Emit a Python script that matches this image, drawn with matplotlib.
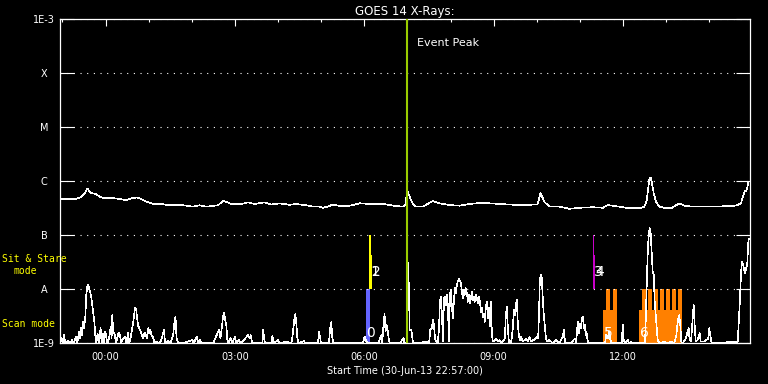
import numpy as np
import matplotlib
matplotlib.use('Agg')
import matplotlib.pyplot as plt
import matplotlib.dates as mdates
from matplotlib.ticker import NullLocator
from datetime import datetime

# time axis: minutes after 30-Jun-13 22:57:00, flux as log10(W/m^2)
start = datetime(2013, 6, 30, 22, 57)
span_min = 960

# GOES long channel (1-8 A)
long_min = [0, 20, 27.4, 34.3, 37.6, 40.3, 43.6, 48.2, 55.2, 62, 76, 83, 92, 99, 106, 113,
            120, 129, 143, 152, 171, 185, 194, 203, 219.5, 226.5, 231, 238, 252, 261, 270.5,
            284.3, 293.6, 305, 319, 328, 342, 351.5, 361, 365.4, 372.3, 379, 388.5, 402,
            416.5, 430.4, 449, 462.8, 476.7, 480.4, 482.7, 486, 490.6, 495, 504.5, 513.7,
            518.4, 527.6, 541.5, 555.4, 569.3, 587.8, 597, 611, 639, 664, 668, 674, 681,
            694.6, 708.5, 722.4, 740.9, 754.8, 761.7, 768.7, 778, 791.8, 805.7, 812.7,
            815.9, 818.2, 819.6, 821.5, 823.3, 825.6, 828.9, 833.5, 842.8, 849.7, 856.7,
            862.2, 868.2, 879.8, 912.2, 940, 947, 950.2, 952, 954.8, 957.6]
long_log = [-6.33, -6.33, -6.30, -6.22, -6.13, -6.18, -6.22, -6.23, -6.285, -6.315, -6.315,
            -6.33, -6.35, -6.315, -6.30, -6.33, -6.38, -6.42, -6.425, -6.444, -6.444, -6.47,
            -6.444, -6.47, -6.444, -6.36, -6.38, -6.42, -6.42, -6.39, -6.42, -6.39, -6.43,
            -6.41, -6.435, -6.42, -6.444, -6.47, -6.47, -6.49, -6.47, -6.43, -6.455, -6.455,
            -6.407, -6.42, -6.42, -6.45, -6.47, -6.42, -6.16, -6.285, -6.42, -6.47, -6.47,
            -6.40, -6.365, -6.407, -6.44, -6.452, -6.42, -6.396, -6.407, -6.42, -6.44, -6.43,
            -6.22, -6.39, -6.47, -6.47, -6.51, -6.49, -6.48, -6.49, -6.44, -6.452, -6.47,
            -6.50, -6.50, -6.47, -6.35, -6.11, -5.96, -5.93, -6.04, -6.22, -6.38, -6.47,
            -6.50, -6.50, -6.44, -6.41, -6.45, -6.47, -6.47, -6.45, -6.41, -6.26, -6.19,
            -6.17, -6.01]

# GOES short channel (0.5-4 A)
short_pts = [
    (0, -9.0), (1.9, -8.9), (3.3, -9.0), (5.2, -8.85), (7, -9.0), (11.2, -8.95), (13.5, -9.0),
    (16.3, -8.94), (19, -9.0), (21.4, -8.88), (23.7, -9.0), (26, -8.78), (27.4, -8.9),
    (28.8, -8.72), (30.2, -8.85), (31.5, -8.6), (33, -8.72), (34.8, -8.5), (36.2, -8.1),
    (37.6, -7.95), (39, -7.91), (40.3, -8.0), (41.7, -8.05), (43.1, -8.15), (44.5, -8.3),
    (45.9, -8.45), (47.3, -8.6), (48.7, -8.85), (50, -9.0), (51.9, -8.82), (53.3, -9.0),
    (54.7, -8.85), (56.1, -8.72), (57.5, -9.0), (59.3, -8.82), (60.7, -9.0), (62.6, -8.78),
    (64, -8.9), (65.8, -9.0), (68.1, -8.88), (70, -8.7), (71.4, -8.9), (72.3, -8.48),
    (73.7, -8.8), (75.5, -8.82), (77.4, -9.0), (79.2, -8.9), (81.1, -8.8), (83, -8.84),
    (84.8, -9.0), (86.6, -8.92), (90.3, -8.88), (92.2, -9.0), (94, -8.8), (95.9, -9.0),
    (97.8, -8.9), (100, -8.72), (101.5, -8.6), (102.9, -8.45), (104.2, -8.34), (105.6, -8.37),
    (107, -8.55), (108.4, -8.68), (109.8, -8.72), (111.6, -8.78), (113.5, -8.85), (115.4, -8.9),
    (117.2, -8.8), (119, -8.85), (120.9, -8.9), (122.3, -8.72), (123.7, -8.82), (125.1, -8.75),
    (126.9, -8.85), (128.8, -8.88), (131.1, -9.0), (133.9, -8.97), (138.5, -9.0), (141.3, -8.9),
    (144.1, -8.75), (145.9, -9.0), (150.1, -8.95), (153.3, -9.0), (157, -8.85), (158.9, -8.6),
    (160.3, -8.51), (161.7, -8.9), (164, -9.0), (175.5, -8.98), (183.9, -8.94), (185.7, -9.0),
    (189.9, -8.88), (191.7, -9.0), (194, -8.94), (197.8, -9.0), (212.6, -9.0), (220.9, -8.75),
    (222.8, -8.9), (224.6, -8.72), (226.5, -8.5), (227.9, -8.44), (229.2, -8.55), (231.1, -8.68),
    (232.5, -8.95), (234.8, -9.0), (236.7, -8.9), (239.4, -9.0),
    (242.8, -8.88), (245.1, -9.0), (248.4, -8.94), (251.1, -9.0), (261.3, -8.85), (263.2, -8.9),
    (265, -8.85), (266.9, -9.0), (281.2, -9.0), (282.2, -8.75), (283.5, -8.9), (284.9, -9.0),
    (293.7, -9.0), (295.1, -8.86), (296.5, -9.0), (303, -8.94), (304.8, -9.0), (314.6, -8.97),
    (321.5, -9.0), (322.9, -8.88), (324.3, -8.72), (325.7, -8.54), (327.1, -8.46), (328.5, -8.66),
    (329.8, -8.9), (331.2, -9.0), (339.1, -8.96), (341, -9.0), (358.6, -9.0), (359.9, -8.78),
    (361.3, -8.88), (362.7, -9.0), (373.8, -9.0), (375.2, -8.75), (377, -8.61), (378.5, -8.9),
    (379.8, -9.0), (421, -9.0), (423.4, -8.88), (425.2, -8.95), (428, -9.0), (441.9, -9.0),
    (443.3, -8.97), (446.5, -8.85), (447.9, -9.0), (449.3, -8.72), (451.1, -8.46), (452.5, -8.78),
    (453.9, -8.66), (455.3, -8.75), (456.7, -8.9), (458.1, -9.0), (473.4, -9.0), (475.2, -8.94),
    (477.5, -8.9), (478.9, -9.0), (482.8, -9.0), (483.9, -7.51), (485, -8.0), (486.1, -8.75),
    (488.5, -8.75), (490.7, -9.0),
    (511.6, -8.97), (513, -9.0), (514.8, -8.75), (516.7, -8.72), (518.5, -8.57), (519.9, -8.66),
    (521.3, -8.91), (523.1, -8.97), (525, -9.0), (526.8, -8.75), (528.2, -8.23), (529.6, -8.14),
    (531, -8.48), (532.4, -8.97), (533.8, -8.17), (535.2, -8.14), (536.6, -8.29), (538, -8.10),
    (539.3, -8.32), (540.7, -8.97), (542.1, -8.10), (543.5, -8.01), (544.9, -8.35), (546.3, -8.54),
    (547.7, -8.2), (549.1, -7.98), (550.5, -8.07), (551.8, -7.91), (553.2, -7.85), (554.6, -7.80),
    (556, -7.85), (557.4, -7.88), (558.8, -8.04), (560.2, -8.17), (561.6, -8.01), (563, -8.10),
    (564.3, -7.98), (565.7, -8.07), (567.1, -8.23), (568.5, -8.10), (569.9, -8.26), (571.3, -8.17),
    (572.7, -8.04), (574.1, -8.2), (575.5, -8.14), (576.8, -8.23), (578.2, -8.10), (579.6, -8.17),
    (581, -8.26), (582.4, -8.14), (583.8, -8.23), (585.2, -8.42), (586.6, -8.35), (588, -8.51),
    (589.4, -8.45), (590.7, -8.6), (592.1, -8.32), (593.5, -8.23), (594.9, -8.54), (596.3, -8.35),
    (597.7, -8.69), (599.1, -8.23), (600.5, -8.85), (601.9, -8.97), (604.2, -8.94), (606.5, -8.91),
    (608.8, -8.97), (611.1, -8.94), (613.9, -9.0), (617.1, -8.94), (618.5, -8.91), (619.9, -8.48),
    (621.3, -8.32), (622.7, -8.72), (624.1, -8.97), (625.9, -9.0), (627.8, -8.94), (629.6, -8.72),
    (631, -8.38), (632.4, -8.48), (633.8, -8.29), (635.2, -8.2), (636.6, -8.66), (638, -8.85),
    (639.4, -8.94), (641.2, -8.88), (643.5, -8.97), (648.2, -8.91), (650.5, -8.97), (652.8, -8.88),
    (655.1, -8.97), (658.3, -8.94), (661.1, -8.91), (663.4, -8.88), (664.8, -8.91), (666.2, -8.38),
    (667.1, -7.85), (668.5, -7.73), (669.9, -7.79), (671.3, -8.17), (672.7, -8.48), (674.1, -8.69),
    (675.5, -8.88), (676.9, -8.97), (680.6, -8.94), (685.2, -9.0), (689.8, -8.94), (694.4, -9.0),
    (699.1, -8.88), (700.9, -8.75), (702.3, -9.0), (710.7, -9.0), (713.9, -8.94), (716.2, -8.91),
    (717.6, -9.0), (719, -8.75), (720.4, -8.6), (721.8, -8.82), (723.2, -8.63), (724.5, -8.72),
    (725.9, -8.54), (727.3, -8.51), (728.7, -8.72), (730.1, -8.66),
    (730.7, -8.85), (732.1, -8.78), (733.5, -8.94), (734.9, -9.0), (743.2, -9.0), (758, -9.0),
    (759.4, -8.85), (761.7, -8.91), (763.6, -8.78), (765.4, -8.94), (767.3, -9.0), (781.2, -9.0),
    (782.5, -8.66), (783.9, -8.94), (785.3, -9.0), (787.2, -8.97), (789.5, -8.94), (791.3, -9.0),
    (794.1, -8.97), (796.4, -9.0), (813.6, -9.0), (815, -8.35), (816.3, -7.73), (817.7, -7.18),
    (819.1, -6.93), (820, -6.87), (821.4, -6.96), (822.8, -7.30), (824.2, -7.67), (825.6, -7.73),
    (827, -8.23), (828.4, -8.48), (829.8, -8.72), (831.2, -8.94), (833.5, -9.0), (840.4, -8.97),
    (845, -9.0), (849.7, -8.97), (854.3, -9.0), (857.1, -8.85), (858.5, -8.66), (859.9, -8.54),
    (861.2, -8.48), (862.6, -8.66), (864, -8.97), (865.9, -9.0), (870.5, -8.91), (872.8, -8.78),
    (874.2, -8.72), (875.6, -8.94), (877.5, -8.97), (879.8, -8.54), (881.2, -8.29), (882.6, -8.66),
    (884, -8.97), (886.7, -8.94), (889.5, -8.81), (890.9, -8.97), (896, -8.97), (901.5, -8.91),
    (902.9, -8.72), (904.3, -8.85), (905.7, -8.97), (907.6, -9.0), (940, -8.97), (942.3, -9.0),
    (943.7, -8.66), (945, -8.35), (946.4, -7.92), (947.8, -7.55), (948.8, -7.49), (950.2, -7.55),
    (951.5, -7.64), (952.9, -7.70), (954.3, -7.61), (955.7, -7.55), (957.1, -7.15), (958, -7.06),
]
short_min = [p[0] for p in short_pts]
short_log = [p[1] for p in short_pts]

# observation windows: start, end (minutes), bottom/top (log10 flux), colour
win_start = [425.0, 429.4, 429.4, 740.5, 740.5, 755.7, 805.8]
win_end = [430.5, 432.6, 433.5, 741.9, 743.3, 773.8, 865.1]
win_bottom = [-9.0, -8.0, -8.0, -8.0, -8.0, -9.0, -9.0]
win_top = [-8.0, -7.0, -7.37, -7.0, -7.37, -8.38, -8.38]
win_color = ['#6464ff', '#ffff00', '#ffff00', '#c800c8', '#c800c8', '#ff8000', '#ff8000']

# scan rasters inside windows 5 and 6
raster_start = [759.0, 768.3, 809.5, 817.9, 826.2, 834.6, 842.9, 851.3, 859.6]
raster_dur = 5.6

# window numbers (1/2 and 3/4 overlap in the original)
lab_text = ['0', '1', '2', '3', '4', '5', '6']
lab_min = [426, 431.5, 434, 742.5, 744.5, 757, 807]
lab_log = [-8.81, -7.68, -7.68, -7.68, -7.68, -8.81, -8.81]

peak_min = 482.0

levels = [1e-9, 1e-8, 1e-7, 1e-6, 1e-5, 1e-4, 1e-3]
level_names = ['1E-9', 'A', 'B', 'C', 'M', 'X', '1E-3']

t0 = mdates.date2num(start)


def tnum(m):
    return t0 + np.asarray(m, dtype=float) / 1440.0


fig = plt.figure(figsize=(7.68, 3.84), dpi=100, facecolor='black')
ax = fig.add_axes([60.3 / 768, 1 - 343.3 / 384, 690 / 768, 324 / 384])
ax.set_facecolor('black')

for s, e, b, t, c in zip(win_start, win_end, win_bottom, win_top, win_color):
    ax.bar(tnum(s), 10 ** t - 10 ** b, width=(e - s) / 1440.0, bottom=10 ** b,
           align='edge', color=c, linewidth=0, zorder=1)
for s in raster_start:
    ax.bar(tnum(s), 1e-8 - 1e-9, width=raster_dur / 1440.0, bottom=1e-9,
           align='edge', color='#ff8000', linewidth=0, zorder=1)

# crisp 1px lines like the original plot
ax.plot(tnum(short_min), 10 ** np.array(short_log), color='white', lw=0.45,
        antialiased=False, zorder=2)
ax.plot(tnum(long_min), 10 ** np.array(long_log), color='white', lw=0.45,
        antialiased=False, zorder=2)

ax.axvline(tnum(peak_min), color='#9acd00', lw=1.5, zorder=3)
ax.text(tnum(peak_min + 14), 10 ** -3.43, 'Event Peak', color='white', fontsize=8,
        va='center', ha='left', zorder=4)

for txt, m, lg in zip(lab_text, lab_min, lab_log):
    ax.text(tnum(m), 10 ** lg, txt, color='white', fontsize=10, va='center', ha='left', zorder=4)

ax.set_yscale('log')
ax.set_ylim(1e-9, 1e-3)
ax.set_xlim(tnum(0), tnum(span_min))
ax.set_yticks(levels)
ax.set_yticklabels(level_names)
ax.yaxis.set_minor_locator(NullLocator())
ax.grid(axis='y', color='white', linestyle=(0, (1, 5)), linewidth=0.8)

ax.xaxis.set_major_locator(mdates.HourLocator(byhour=range(0, 24, 3)))
ax.xaxis.set_minor_locator(mdates.HourLocator())
ax.xaxis.set_major_formatter(mdates.DateFormatter('%H:%M'))

ax.tick_params(axis='y', which='major', left=True, right=True, direction='in', length=10,
               width=0.8, colors='white', labelsize=7, pad=11.5)
ax.tick_params(axis='x', which='major', top=True, bottom=False, direction='in', length=5,
               width=0.8, colors='white', labelsize=7, pad=6, labelbottom=True)
ax.tick_params(axis='x', which='minor', top=True, bottom=False, direction='in', length=2.5,
               width=0.8, colors='white')
for lbl in ax.get_yticklabels():
    lbl.set_horizontalalignment('center')

for sp in ax.spines.values():
    sp.set_color('white')
    sp.set_linewidth(0.9)

ax.set_title('GOES 14 X-Rays:', color='white', fontsize=8.5, pad=3)
ax.set_xlabel('Start Time (30-Jun-13 22:57:00)', color='white', fontsize=7, labelpad=3)

fig.text(2 / 768, 1 - 259 / 384, 'Sit & Stare', color='#ffff00', fontsize=7,
         family='DejaVu Sans Mono', va='center', ha='left')
fig.text(13 / 768, 1 - 271 / 384, 'mode', color='#ffff00', fontsize=7,
         family='DejaVu Sans Mono', va='center', ha='left')
fig.text(2 / 768, 1 - 324 / 384, 'Scan mode', color='#ffff00', fontsize=7,
         family='DejaVu Sans Mono', va='center', ha='left')

fig.savefig('out.png', dpi=100, facecolor='black')
